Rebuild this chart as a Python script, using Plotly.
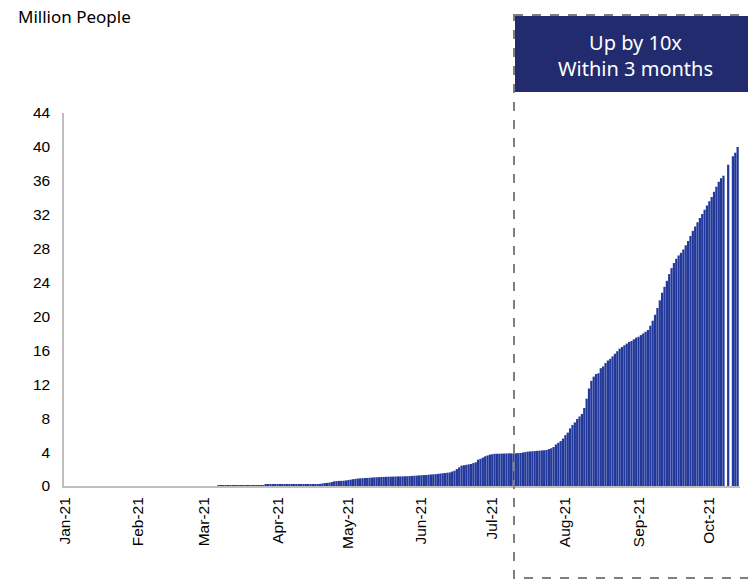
import pandas as pd
import plotly.graph_objects as go

# Cumulative vaccinated population (million people), one value per day from 7 Mar 2021.
# None marks days with no reported figure.
series_start = "2021-03-07"
vaccinated_mn = [
    # 7 Mar - 26 Mar
    0.04, 0.04, 0.05, 0.05, 0.05, 0.05, 0.05, 0.06, 0.06, 0.06,
    0.06, 0.06, 0.07, 0.07, 0.07, 0.07, 0.07, 0.08, 0.08, 0.08,
    # 27 Mar - 18 Apr
    0.12, 0.12, 0.12, 0.13, 0.13, 0.13, 0.13, 0.14, 0.14, 0.14,
    0.14, 0.14, 0.15, 0.15, 0.15, 0.15, 0.16, 0.16, 0.16, 0.17,
    0.18, 0.19, 0.21,
    # 19 Apr - 30 Apr
    0.25, 0.30, 0.35, 0.37, 0.40, 0.47, 0.55, 0.58, 0.60, 0.61, 0.62, 0.66,
    # 1 May - 20 May
    0.70, 0.75, 0.80, 0.84, 0.88, 0.90, 0.92, 0.94, 0.95, 0.97,
    1.00, 1.02, 1.03, 1.05, 1.06, 1.07, 1.08, 1.10, 1.10, 1.11,
    # 21 May - 9 Jun
    1.12, 1.13, 1.13, 1.14, 1.15, 1.15, 1.17, 1.19, 1.21, 1.23,
    1.25, 1.27, 1.29, 1.30, 1.33, 1.36, 1.38, 1.40, 1.43, 1.47,
    # 10 Jun - 29 Jun
    1.50, 1.53, 1.57, 1.60, 1.70, 1.80, 2.00, 2.20, 2.40, 2.45,
    2.50, 2.55, 2.60, 2.70, 2.80, 3.10, 3.20, 3.35, 3.50, 3.60,
    # 30 Jun - 19 Jul
    3.70, 3.75, 3.80, 3.80, 3.81, 3.82, 3.83, 3.84, 3.85, 3.85,
    3.85, 3.86, 3.88, 3.90, 3.95, 4.00, 4.05, 4.08, 4.10, 4.12,
    # 20 Jul - 8 Aug
    4.15, 4.17, 4.20, 4.22, 4.25, 4.35, 4.45, 4.60, 4.90, 5.10,
    5.30, 5.60, 6.00, 6.30, 6.80, 7.20, 7.50, 7.90, 8.20, 8.50,
    # 9 Aug - 28 Aug
    9.20, 10.3, 11.5, 12.4, 12.9, 13.2, 13.3, 13.9, 14.1, 14.5,
    14.8, 15.0, 15.3, 15.6, 15.9, 16.2, 16.4, 16.6, 16.8, 17.0,
    # 29 Aug - 17 Sep
    17.1, 17.3, 17.5, 17.6, 17.8, 18.0, 18.2, 18.4, 18.9, 19.5,
    20.2, 21.0, 21.9, 22.8, 23.5, 24.2, 25.0, 25.7, 26.3, 26.8,
    # 18 Sep - 7 Oct
    27.2, 27.5, 27.9, 28.4, 28.9, 29.5, 30.1, 30.6, 31.1, 31.6,
    32.1, 32.6, 33.1, 33.6, 34.1, 34.7, 35.3, 35.9, 36.3, 36.6,
    # 8 Oct - 13 Oct
    None, 37.9, None, 38.9, 39.3, 40.0,
]
dates = pd.date_range(series_start, periods=len(vaccinated_mn), freq="D")

month_ticks = pd.date_range("2021-01-01", "2021-10-01", freq="MS")
month_labels = ["Jan-21", "Feb-21", "Mar-21", "Apr-21", "May-21",
                "Jun-21", "Jul-21", "Aug-21", "Sep-21", "Oct-21"]
y_ticks = list(range(0, 45, 4))

BAR = "#22389b"
NAVY = "#222b6e"
AXIS = "#bfbfbf"

W, H = 748, 581
L, R, T, B = 64, 8, 113, 95
PW, PH = W - L - R, H - T - B


def px(x):
    return (x - L) / PW


def py(y):
    return (H - B - y) / PH


fig = go.Figure(go.Bar(x=dates, y=vaccinated_mn, marker=dict(color=BAR, line=dict(width=0))))

fig.update_layout(
    width=W, height=H, autosize=False,
    margin=dict(l=L, r=R, t=T, b=B, pad=0),
    plot_bgcolor="white", paper_bgcolor="white",
    showlegend=False, bargap=0.05,
    font=dict(family="Liberation Sans, Arial, sans-serif", size=15, color="#000000"),
)

fig.update_xaxes(
    type="date",
    range=["2020-12-31 12:00", "2021-10-14 00:00"],
    tickvals=month_ticks, ticktext=month_labels, tickangle=-90,
    showgrid=False, zeroline=False,
    showline=True, linecolor=AXIS, linewidth=2,
    ticks="", ticklabelstandoff=3,
    tickfont=dict(size=15.5, color="#000000"),
)
fig.update_yaxes(
    range=[0, 44], tickvals=y_ticks,
    showgrid=False, zeroline=False,
    showline=True, linecolor=AXIS, linewidth=1.5,
    ticks="", ticklabelstandoff=9,
    tickfont=dict(size=15.5, color="#000000"),
)

# Highlight box around the recent surge
fig.add_shape(type="rect", xref="paper", yref="paper",
              x0=px(515), x1=px(770), y0=py(16), y1=py(92),
              fillcolor=NAVY, line=dict(width=0), layer="above")
fig.add_shape(type="rect", xref="paper", yref="paper",
              x0=px(514), x1=px(800), y0=py(15), y1=py(578),
              fillcolor="rgba(0,0,0,0)",
              line=dict(color="#7f7f7f", width=2, dash="dash"), layer="above")

fig.add_annotation(xref="paper", yref="paper", x=px(635), y=py(55.5),
                   text="Up by 10x<br>Within 3 months", showarrow=False,
                   font=dict(family="Noto Sans, Open Sans, sans-serif", size=20, color="white"),
                   xanchor="center", yanchor="middle", align="center")

fig.add_annotation(xref="paper", yref="paper", x=px(16), y=py(16),
                   text="Million People", showarrow=False,
                   font=dict(family="Noto Sans, Open Sans, sans-serif", size=17, color="#000000"),
                   xanchor="left", yanchor="middle")

fig.write_html("out.html")
